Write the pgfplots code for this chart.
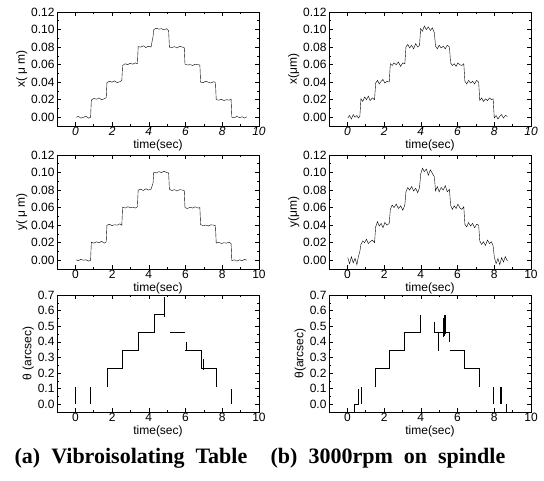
\documentclass[border=0pt]{standalone}
\usepackage{pgfplots}
\pgfplotsset{compat=1.18}
\usepackage{fontspec}
\setmainfont{Liberation Sans}
\newfontfamily\capfont{Liberation Serif}

\pgfplotsset{
  panel/.style={
    scale only axis, width=202pt, height=114pt,
    anchor=north west,
    xmin=-1, xmax=10,
    xtick={0,2,4,6,8,10}, minor x tick num=1, minor y tick num=1,
    tick align=inside, major tick length=4pt, minor tick length=2pt,
    axis line style={line width=0.9pt},
    every tick/.style={black, line width=0.6pt},
    /pgf/number format/assume math mode=true,
    tick label style={font=\fontsize{12}{13}\selectfont},
    label style={font=\fontsize{12}{13}\selectfont},
    xticklabel style={yshift=2pt},
    yticklabel style={xshift=1pt},
    xlabel={time(sec)},
    xlabel style={yshift=3pt},
    ylabel style={yshift=-3pt},
    cycle list={{black, line width=0.55pt, mark=none}},
  },
  umpanel/.style={
    panel, ymin=-0.01, ymax=0.12,
    ytick={0,0.02,0.04,0.06,0.08,0.10,0.12},
    yticklabel style={/pgf/number format/fixed, /pgf/number format/fixed zerofill, /pgf/number format/precision=2},
  },
  thpanel/.style={
    panel, height=117pt, ymin=-0.05, ymax=0.7,
    ytick={0,0.1,0.2,0.3,0.4,0.5,0.6,0.7},
    yticklabel style={/pgf/number format/fixed, /pgf/number format/fixed zerofill, /pgf/number format/precision=1},
    unbounded coords=jump,
  },
}

\begin{document}
\begin{tikzpicture}
\useasboundingbox (0,0) rectangle (544pt,-480pt);

% (a) x
\begin{axis}[umpanel, at={(57pt,-12pt)}, ylabel={x( μ m)}, xticklabel style={font=\fontsize{12}{13}\selectfont\itshape}]
\addplot coordinates {
(0.05,0.000)(0.16,0.001)(0.30,-0.001)(0.44,0.000)(0.58,0.001)(0.72,-0.001)(0.83,0.000)
(0.87,0.0195)(1.01,0.0215)(1.15,0.0205)(1.29,0.0220)(1.43,0.0200)(1.57,0.0210)(1.68,0.0225)
(1.72,0.0395)(1.86,0.0410)(2.00,0.0400)(2.14,0.0415)(2.28,0.0395)(2.42,0.0405)(2.53,0.0420)
(2.57,0.0590)(2.71,0.0610)(2.85,0.0600)(2.99,0.0615)(3.13,0.0605)(3.27,0.0620)(3.38,0.0610)
(3.42,0.0805)(3.56,0.0800)(3.70,0.0815)(3.84,0.0795)(3.98,0.0810)(4.12,0.0800)(4.23,0.0920)
(4.27,0.1000)(4.41,0.1015)(4.55,0.1005)(4.69,0.1010)(4.83,0.0995)(4.97,0.1010)(5.08,0.0985)
(5.12,0.0800)(5.26,0.0795)(5.40,0.0805)(5.54,0.0790)(5.68,0.0810)(5.82,0.0800)(5.93,0.0795)
(5.97,0.0605)(6.11,0.0595)(6.25,0.0600)(6.39,0.0590)(6.53,0.0605)(6.67,0.0600)(6.78,0.0595)
(6.82,0.0400)(6.96,0.0395)(7.10,0.0410)(7.24,0.0400)(7.38,0.0390)(7.52,0.0405)(7.63,0.0395)
(7.67,0.0200)(7.81,0.0195)(7.95,0.0205)(8.09,0.0190)(8.23,0.0200)(8.37,0.0195)(8.48,0.0205)
(8.52,0.0000)(8.66,-0.0005)(8.80,0.0010)(8.94,-0.0005)(9.08,0.0005)(9.22,-0.0010)(9.33,0.0005)
};
\end{axis}

% (b) x
\begin{axis}[umpanel, at={(329pt,-12pt)}, ylabel={x(μm)}, xticklabel style={font=\fontsize{12}{13}\selectfont\itshape}]
\addplot coordinates {
(0.02,-0.001)(0.12,0.002)(0.22,-0.002)(0.32,0.003)(0.42,0.000)(0.52,0.002)(0.60,-0.001)(0.68,0.001)
(0.74,0.021)(0.84,0.018)(0.94,0.023)(1.04,0.020)(1.14,0.024)(1.24,0.019)(1.36,0.022)(1.48,0.020)
(1.54,0.039)(1.64,0.042)(1.74,0.038)(1.84,0.041)(1.94,0.043)(2.04,0.039)(2.16,0.041)(2.28,0.040)
(2.34,0.061)(2.44,0.059)(2.54,0.062)(2.66,0.060)(2.78,0.063)(2.90,0.058)(3.02,0.062)(3.13,0.061)
(3.19,0.080)(3.29,0.083)(3.39,0.079)(3.50,0.082)(3.61,0.078)(3.72,0.084)(3.83,0.080)(3.93,0.082)
(3.99,0.101)(4.09,0.098)(4.19,0.104)(4.30,0.100)(4.41,0.103)(4.52,0.099)(4.63,0.102)(4.74,0.096)
(4.80,0.081)(4.90,0.078)(5.00,0.082)(5.11,0.079)(5.22,0.081)(5.33,0.078)(5.44,0.082)(5.56,0.080)
(5.62,0.062)(5.72,0.059)(5.82,0.061)(5.92,0.058)(6.02,0.062)(6.12,0.060)(6.23,0.059)(6.34,0.061)
(6.40,0.041)(6.50,0.038)(6.60,0.042)(6.71,0.039)(6.82,0.041)(6.93,0.038)(7.04,0.042)(7.15,0.040)
(7.21,0.019)(7.31,0.022)(7.41,0.018)(7.52,0.021)(7.63,0.019)(7.74,0.022)(7.85,0.020)(7.94,0.021)
(8.00,-0.001)(8.10,0.002)(8.20,-0.002)(8.30,0.001)(8.40,0.003)(8.50,-0.001)(8.60,0.002)(8.72,0.001)
};
\end{axis}

% (a) y
\begin{axis}[umpanel, at={(57pt,-155pt)}, ylabel={y( μ m)}]
\addplot coordinates {
(0.05,0.0005)(0.16,-0.0005)(0.30,0.0010)(0.44,0.0000)(0.58,0.0005)(0.72,-0.0010)(0.83,0.0000)
(0.87,0.0205)(1.01,0.0195)(1.15,0.0210)(1.29,0.0200)(1.43,0.0215)(1.57,0.0195)(1.68,0.0210)
(1.72,0.0400)(1.86,0.0410)(2.00,0.0395)(2.14,0.0405)(2.28,0.0400)(2.42,0.0415)(2.53,0.0400)
(2.57,0.0605)(2.71,0.0595)(2.85,0.0610)(2.99,0.0600)(3.13,0.0605)(3.27,0.0595)(3.38,0.0610)
(3.42,0.0800)(3.56,0.0810)(3.70,0.0795)(3.84,0.0815)(3.98,0.0800)(4.12,0.0810)(4.23,0.0880)
(4.27,0.1005)(4.41,0.0995)(4.55,0.1010)(4.69,0.1000)(4.83,0.1015)(4.97,0.1000)(5.08,0.0995)
(5.12,0.0810)(5.26,0.0795)(5.40,0.0805)(5.54,0.0790)(5.68,0.0805)(5.82,0.0800)(5.93,0.0795)
(5.97,0.0600)(6.11,0.0590)(6.25,0.0605)(6.39,0.0595)(6.53,0.0610)(6.67,0.0595)(6.78,0.0600)
(6.82,0.0405)(6.96,0.0395)(7.10,0.0400)(7.24,0.0390)(7.38,0.0405)(7.52,0.0400)(7.63,0.0395)
(7.67,0.0195)(7.81,0.0205)(7.95,0.0190)(8.09,0.0200)(8.23,0.0195)(8.37,0.0205)(8.48,0.0190)
(8.52,-0.0005)(8.66,0.0005)(8.80,-0.0010)(8.94,0.0005)(9.08,-0.0005)(9.22,0.0010)(9.33,0.0000)
};
\end{axis}

% (b) y
\begin{axis}[umpanel, at={(329pt,-155pt)}, ylabel={y(μm)}]
\addplot coordinates {
(0.02,0.003)(0.12,-0.004)(0.22,0.004)(0.32,-0.003)(0.42,0.002)(0.52,-0.005)(0.60,0.004)(0.68,0.010)
(0.74,0.018)(0.84,0.022)(0.94,0.020)(1.04,0.024)(1.14,0.019)(1.24,0.021)(1.36,0.023)(1.48,0.020)
(1.54,0.038)(1.64,0.044)(1.74,0.039)(1.84,0.042)(1.94,0.037)(2.04,0.043)(2.16,0.040)(2.28,0.042)
(2.34,0.058)(2.44,0.063)(2.54,0.060)(2.66,0.064)(2.78,0.059)(2.90,0.062)(3.02,0.057)(3.13,0.063)
(3.19,0.078)(3.29,0.083)(3.39,0.080)(3.50,0.084)(3.61,0.079)(3.72,0.082)(3.83,0.077)(3.93,0.083)
(3.99,0.098)(4.09,0.105)(4.19,0.101)(4.30,0.104)(4.41,0.097)(4.52,0.103)(4.63,0.099)(4.74,0.095)
(4.80,0.079)(4.90,0.084)(5.00,0.078)(5.11,0.083)(5.22,0.080)(5.33,0.085)(5.44,0.078)(5.56,0.081)
(5.62,0.063)(5.72,0.058)(5.82,0.062)(5.92,0.059)(6.02,0.064)(6.12,0.060)(6.23,0.058)(6.34,0.061)
(6.40,0.041)(6.50,0.038)(6.60,0.043)(6.71,0.039)(6.82,0.042)(6.93,0.037)(7.04,0.041)(7.15,0.040)
(7.21,0.022)(7.31,0.018)(7.41,0.021)(7.52,0.017)(7.63,0.023)(7.74,0.019)(7.85,0.021)(7.94,0.016)
(8.00,0.004)(8.10,-0.004)(8.20,0.002)(8.30,-0.005)(8.40,0.003)(8.50,-0.002)(8.60,0.004)(8.72,-0.001)
};
\end{axis}

% (a) theta
\begin{axis}[thpanel, at={(57pt,-295pt)}, ylabel={θ (arcsec)}]
\addplot coordinates {
(0,0)(0,0.11) (nan,nan)
(0.82,0)(0.82,0.11) (nan,nan)
(1.72,0.11)(1.72,0.23)(2.56,0.23)(2.56,0.345)(3.40,0.345)(3.40,0.46)(4.27,0.46)(4.27,0.575)(4.80,0.575) (nan,nan)
(4.83,0.56)(4.83,0.69) (nan,nan)
(5.16,0.46)(5.97,0.46) (nan,nan)
(6.05,0.40)(6.05,0.345) (nan,nan)
(5.97,0.345)(6.86,0.345)(6.86,0.23)(7.67,0.23)(7.67,0.11) (nan,nan)
(6.98,0.29)(6.98,0.22) (nan,nan)
(8.50,0)(8.50,0.10)
};
\end{axis}

% (b) theta
\begin{axis}[thpanel, at={(329pt,-295pt)}, ylabel={θ(arcsec)}]
\addplot coordinates {
(0.36,-0.05)(0.36,0.0)(0.61,0.0)(0.61,0.10) (nan,nan)
(0.76,0.0)(0.76,0.11) (nan,nan)
(1.51,0.11)(1.51,0.23)(2.29,0.23)(2.29,0.345)(3.10,0.345)(3.10,0.46)(3.96,0.46)(3.96,0.57) (nan,nan)
(4.72,0.53)(4.72,0.46)(4.95,0.46)(4.95,0.34) (nan,nan)
(5.21,0.43)(5.21,0.55) (nan,nan)
(5.26,0.44)(5.26,0.57) (nan,nan)
(5.32,0.45)(5.32,0.57) (nan,nan)
(4.98,0.46)(5.53,0.46)(5.53,0.40) (nan,nan)
(5.57,0.345)(6.38,0.345)(6.38,0.23)(7.19,0.23)(7.19,0.11) (nan,nan)
(7.93,0.0)(7.93,0.11) (nan,nan)
(8.32,0.0)(8.32,0.11) (nan,nan)
(8.38,0.0)(8.38,0.11) (nan,nan)
(8.63,0.0)(8.63,-0.05)
};
\end{axis}

% captions
\node[font=\capfont\bfseries\fontsize{22}{24}\selectfont, anchor=center] at (131pt,-458pt) {(a)\hspace{11pt}Vibroisolating\hspace{11pt}Table};
\node[font=\capfont\bfseries\fontsize{22}{24}\selectfont, anchor=center] at (388pt,-458pt) {(b)\hspace{11pt}3000rpm\hspace{11pt}on\hspace{11pt}spindle};
\end{tikzpicture}
\end{document}
